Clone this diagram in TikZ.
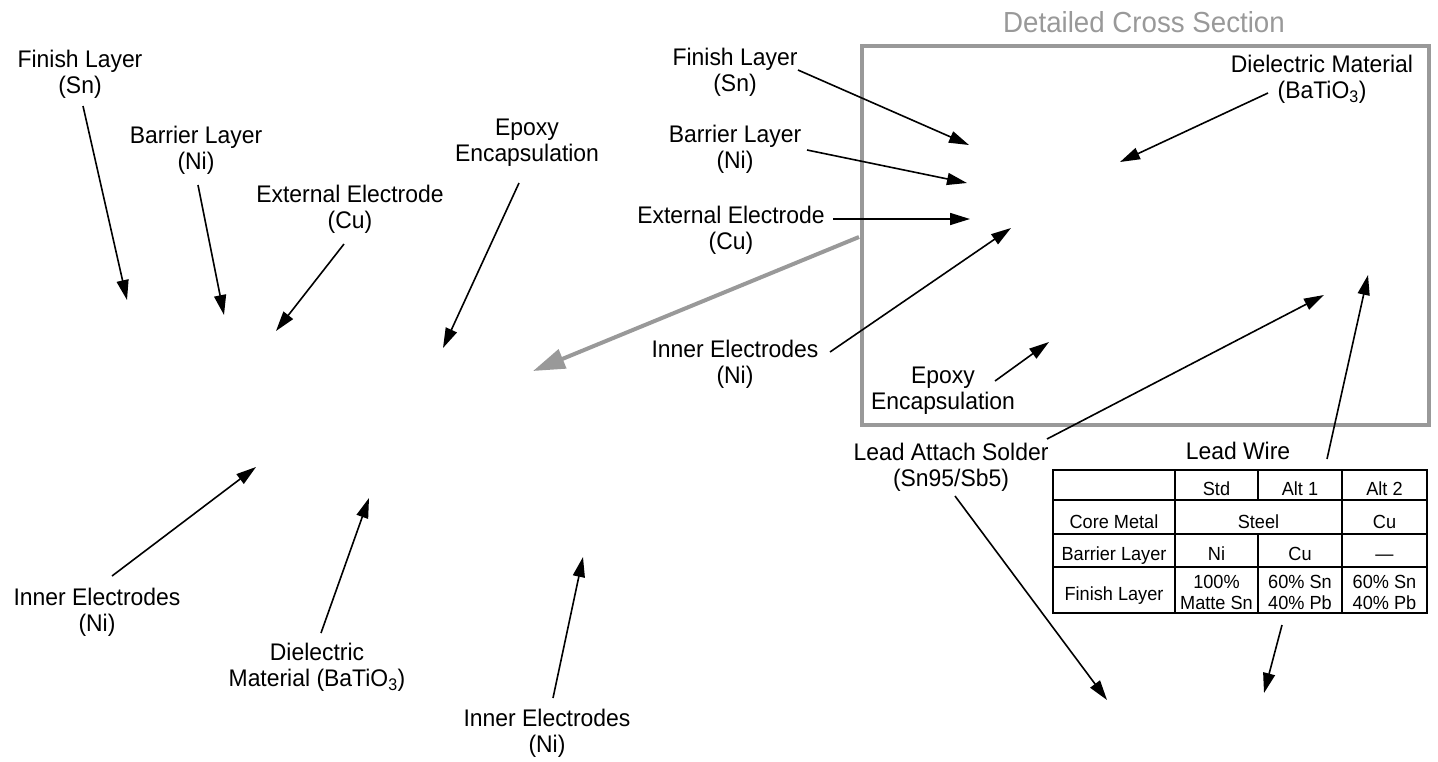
\documentclass[tikz,border=0pt]{standalone}
\usepackage{fontspec}
\setmainfont{Liberation Sans}[FakeStretch=0.955]
\usetikzlibrary{arrows.meta}
\definecolor{boxgray}{RGB}{153,153,153}
\begin{document}
\begin{tikzpicture}[x=1pt,y=-1pt,
  lbl/.style={align=center,inner sep=0pt,anchor=north,font=\fontsize{24}{26.7}\selectfont},
  single/.style={inner sep=0pt,anchor=base,font=\fontsize{24}{26.7}\selectfont},
  ttl/.style={inner sep=0pt,anchor=base,text=boxgray,font=\fontsize{29}{32}\selectfont},
  tc/.style={inner sep=0pt,anchor=base,font=\fontsize{19}{21}\selectfont},
  tc2/.style={align=center,inner sep=0pt,anchor=north,font=\fontsize{19}{21}\selectfont},
  lead/.style={line width=1.6pt,-{Triangle[length=20pt,width=12pt]}},
  zoomarrow/.style={line width=4pt,draw=boxgray,-{Triangle[length=32pt,width=20pt]}},
  frame/.style={line width=4pt,draw=boxgray},
  outer/.style={line width=2pt},
  inner/.style={line width=1.5pt}]
\useasboundingbox (0,0) rectangle (1438,761);

% ---------------- left (overall view) labels ----------------
\node[lbl] (L1) at (80,48.3) {\strut Finish Layer\\\strut (Sn)};
\node[lbl] (L2) at (196,124.3) {\strut Barrier Layer\\\strut (Ni)};
\node[lbl] (L3) at (350,183.3) {\strut External Electrode\\\strut (Cu)};
\node[lbl] (L4) at (527,116.3) {\strut Epoxy\\\strut Encapsulation};
\node[lbl] (L5) at (97,586.3) {\strut Inner Electrodes\\\strut (Ni)};
\node[lbl] (L6) at (317,641.3) {\strut Dielectric\\\strut Material (BaTiO\textsubscript{3})};
\node[lbl] (L7) at (547,707.3) {\strut Inner Electrodes\\\strut (Ni)};

\coordinate (a1s) at (83,106);  \coordinate (a1t) at (127,300);
\coordinate (a2s) at (198,185); \coordinate (a2t) at (224,315);
\coordinate (a3s) at (344,244); \coordinate (a3t) at (276,331);
\coordinate (a4s) at (519,183); \coordinate (a4t) at (443,348);
\coordinate (a5s) at (112,576); \coordinate (a5t) at (256,467);
\coordinate (a6s) at (321,633); \coordinate (a6t) at (369,498);
\coordinate (a7s) at (553,698); \coordinate (a7t) at (583,557);
\draw[lead] (a1s) -- (a1t);
\draw[lead] (a2s) -- (a2t);
\draw[lead] (a3s) -- (a3t);
\draw[lead] (a4s) -- (a4t);
\draw[lead] (a5s) -- (a5t);
\draw[lead] (a6s) -- (a6t);
\draw[lead] (a7s) -- (a7t);

% ---------------- detailed cross section ----------------
\node[ttl] (title) at (1144,32) {Detailed Cross Section};
\node[frame,inner sep=0pt,minimum width=567pt,minimum height=379pt,anchor=north west] (box) at (860,44) {};

\coordinate (gs) at (859,237); \coordinate (gt) at (533,371);
\draw[zoomarrow] (gs) -- (gt);

\node[lbl] (M1) at (735,46.3) {\strut Finish Layer\\\strut (Sn)};
\node[lbl] (M2) at (735,123.3) {\strut Barrier Layer\\\strut (Ni)};
\node[lbl] (M3) at (731,204.3) {\strut External Electrode\\\strut (Cu)};
\node[lbl] (M4) at (735,338.3) {\strut Inner Electrodes\\\strut (Ni)};
\node[lbl] (B1) at (943,364.3) {\strut Epoxy\\\strut Encapsulation};
\node[lbl] (B2) at (1322,53.3) {\strut Dielectric Material\\\strut (BaTiO\textsubscript{3})};
\node[lbl] (S) at (951,441.3) {\strut Lead Attach Solder\\\strut (Sn95/Sb5)};
\node[single] (LW) at (1238,459) {Lead Wire};

\coordinate (m1s) at (798,70);   \coordinate (m1t) at (969,145);
\coordinate (m2s) at (807,150);  \coordinate (m2t) at (967,183);
\coordinate (m3s) at (833,219);  \coordinate (m3t) at (970,219);
\coordinate (m4s) at (830,352);  \coordinate (m4t) at (1011,228);
\coordinate (b1s) at (995,381);  \coordinate (b1t) at (1049,342);
\coordinate (b2s) at (1268,93);  \coordinate (b2t) at (1120,162);
\coordinate (s1s) at (1047,439); \coordinate (s1t) at (1324,295);
\coordinate (s2s) at (955,496);  \coordinate (s2t) at (1107,700);
\coordinate (w1s) at (1327,459); \coordinate (w1t) at (1368,275);
\coordinate (w2s) at (1282,625); \coordinate (w2t) at (1264,693);
\draw[lead] (m1s) -- (m1t);
\draw[lead] (m2s) -- (m2t);
\draw[lead] (m3s) -- (m3t);
\draw[lead] (m4s) -- (m4t);
\draw[lead] (b1s) -- (b1t);
\draw[lead] (b2s) -- (b2t);
\draw[lead] (s1s) -- (s1t);
\draw[lead] (s2s) -- (s2t);
\draw[lead] (w1s) -- (w1t);
\draw[lead] (w2s) -- (w2t);

% ---------------- lead wire table ----------------
\draw[inner] (1053,500) -- (1427,500);
\draw[inner] (1053,534) -- (1427,534);
\draw[inner] (1053,567) -- (1427,567);
\draw[inner] (1175,470) -- (1175,613);
\draw[inner] (1258,470) -- (1258,500);
\draw[inner] (1258,534) -- (1258,613);
\draw[inner] (1342,470) -- (1342,613);
\draw[outer] (1053,470) rectangle (1427,613);

\node[tc] (h2) at (1216.5,495) {Std};
\node[tc] (h3) at (1300,495) {Alt 1};
\node[tc] (h4) at (1384.5,495) {Alt 2};
\node[tc] (r2a) at (1114,528) {Core Metal};
\node[tc] (r2b) at (1258.5,528) {Steel};
\node[tc] (r2c) at (1384.5,528) {Cu};
\node[tc] (r3a) at (1114,560) {Barrier Layer};
\node[tc] (r3b) at (1216.5,560) {Ni};
\node[tc] (r3c) at (1300,560) {Cu};
\node[tc] (r3d) at (1384.5,560) {---};
\node[tc] (r4a) at (1114,600) {Finish Layer};
\node[tc2] (r4b) at (1216.5,573.3) {\strut 100\%\\\strut Matte Sn};
\node[tc2] (r4c) at (1300,573.3) {\strut 60\% Sn\\\strut 40\% Pb};
\node[tc2] (r4d) at (1384.5,573.3) {\strut 60\% Sn\\\strut 40\% Pb};
\end{tikzpicture}
\end{document}
